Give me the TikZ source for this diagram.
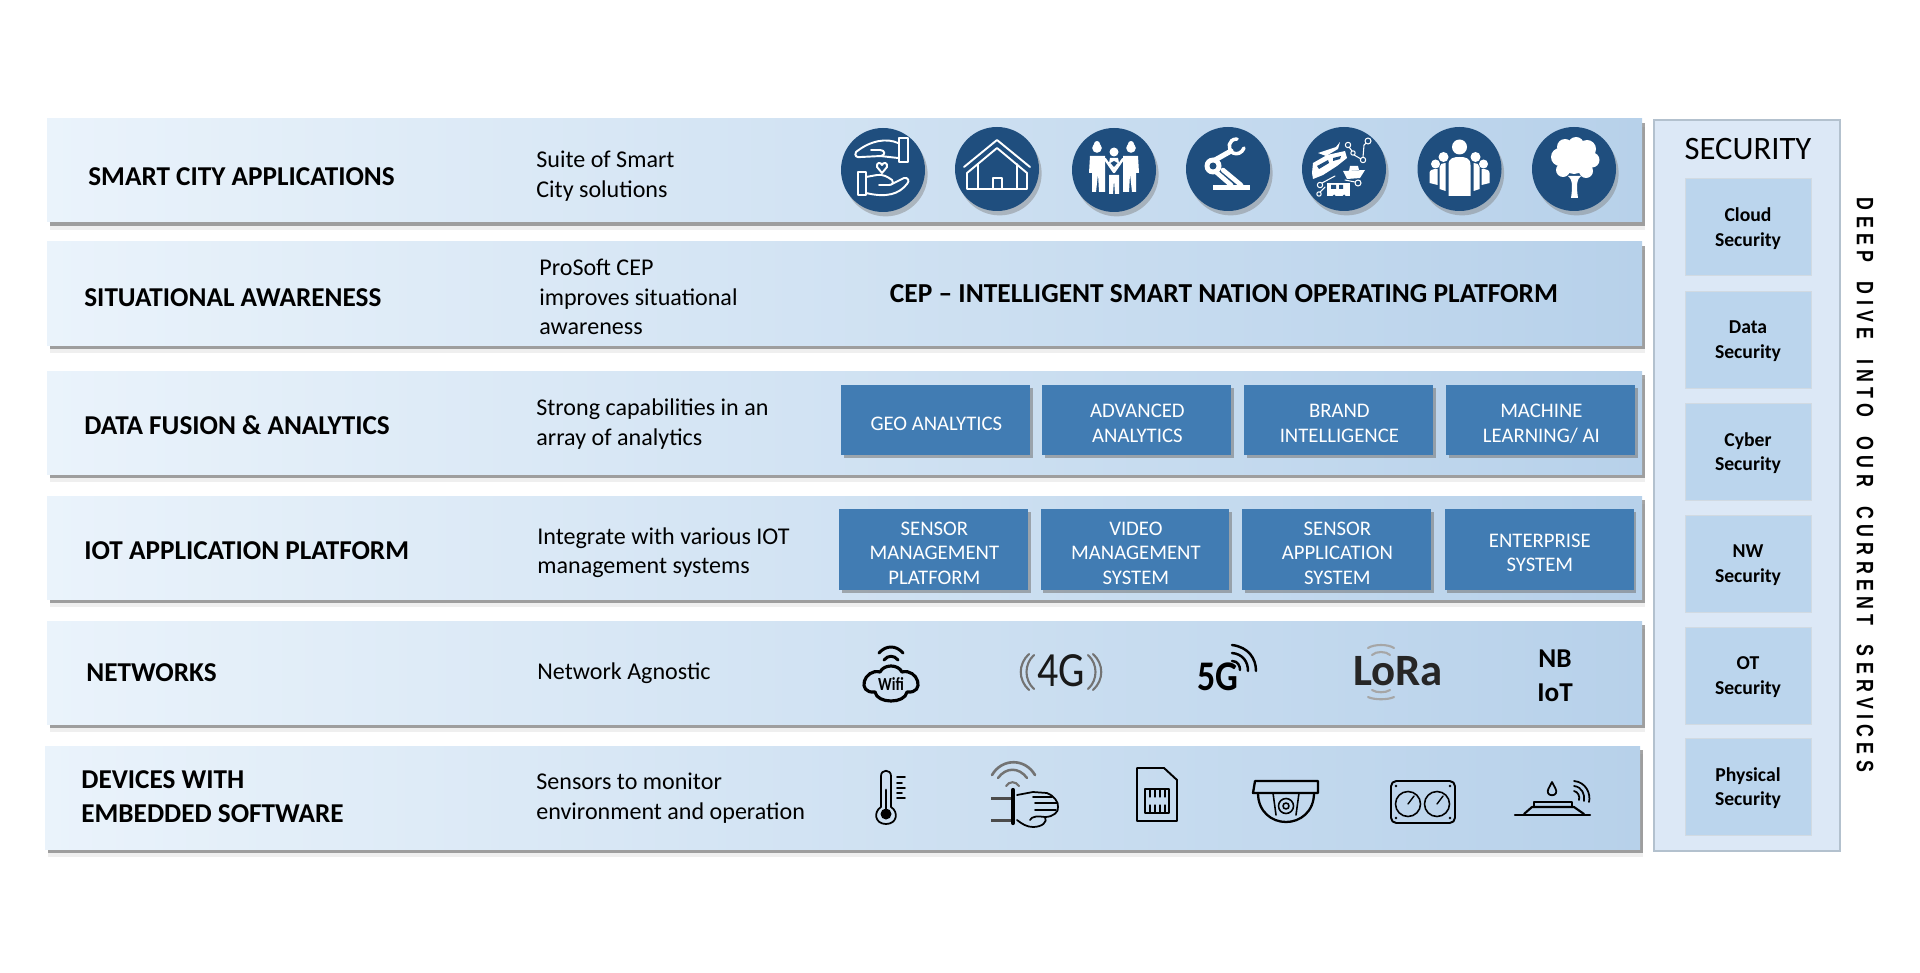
\documentclass[tikz,border=0pt]{standalone}
\usepackage{fontspec}
\usepackage{xcolor}
\setmainfont{Carlito}
\newfontfamily\spacedfont[LetterSpace=30,WordSpace=1.9]{Liberation Sans}
\usetikzlibrary{shadows}
\definecolor{bandleft}{HTML}{EAF3FB}
\definecolor{bandright}{HTML}{B7D1EA}
\definecolor{panelblue}{HTML}{DCE8F6}
\definecolor{panelline}{HTML}{B3C1CE}
\definecolor{secblue}{HTML}{BBD5ED}
\definecolor{tileblue}{HTML}{417CB3}
\definecolor{discblue}{HTML}{1F4E7E}
\tikzset{
	softshadow/.style={drop shadow={shadow xshift=1.5pt,shadow yshift=-4.5pt,fill=black!25,opacity=0.25},
		drop shadow={shadow xshift=1.5pt,shadow yshift=-2.3pt,fill=black!55,opacity=0.65}},
	band/.style={left color=bandleft,right color=bandright,softshadow},
	rowtitle/.style={anchor=west,inner sep=0pt,align=left,font=\fontsize{15.5}{19.5}\selectfont\bfseries},
	rowtext/.style={anchor=west,inner sep=0pt,align=left,font=\fontsize{13.7}{16.7}\selectfont},
	tile/.style={fill=tileblue,inner sep=0pt,minimum width=3.78cm,
		drop shadow={shadow xshift=1.5pt,shadow yshift=-1.8pt,fill=black!55,opacity=0.55}},
	tiletext/.style={text=white,align=center,inner sep=0pt,xshift=0.5pt,yshift=-2pt,font=\fontsize{11.8}{14}\selectfont},
	wide/.style={minimum height=1.4cm},
	tall/.style={minimum height=1.62cm},
	sectile/.style={fill=secblue,draw=panelline!60,line width=0.4pt,minimum width=2.52cm,minimum height=1.94cm,align=center,
		inner sep=0pt,text depth=0pt,font=\fontsize{11.2}{13.9}\selectfont\bfseries},
	disc/.style={fill=discblue,drop shadow={shadow xshift=1.5pt,shadow yshift=-2.5pt,fill=black!50,opacity=0.45}},
	wline/.style={draw=white,line width=1.1pt,line cap=round,line join=round},
	wfill/.style={fill=white},
	kline/.style={draw=black,line width=1pt,line cap=round,line join=round},
	gline/.style={draw=black!55,line width=1.2pt,line cap=round},
}
\begin{document}
\begin{tikzpicture}[x=0.02cm,y=-0.02cm]
	\useasboundingbox (0,0) rectangle (1920,973);
	\fill[band] (47,119) rectangle (1642,222);
	\fill[band] (47,242) rectangle (1642,345);
	\fill[band] (47,371) rectangle (1642,474);
	\fill[band] (47,496) rectangle (1642,599);
	\fill[band] (47,621) rectangle (1642,724);
	\fill[band] (45,746) rectangle (1640,849);
	\node[rowtitle] (apptitle) at (88,177) {SMART CITY APPLICATIONS};
	\node[rowtitle] (sittitle) at (84,298) {SITUATIONAL AWARENESS};
	\node[rowtitle] (datatitle) at (84,425) {DATA FUSION \& ANALYTICS};
	\node[rowtitle] (iottitle) at (84,551) {IOT APPLICATION PLATFORM};
	\node[rowtitle] (nettitle) at (86,673) {NETWORKS};
	\node[rowtitle] (devtitle) at (81,797) {DEVICES WITH\\EMBEDDED SOFTWARE};
	\node[rowtext] (apptext) at (536,176) {Suite of Smart\\City solutions};
	\node[rowtext] (sittext) at (539,297) {ProSoft CEP\\improves situational\\awareness};
	\node[rowtext] (datatext) at (536,424) {Strong capabilities in an\\array of analytics};
	\node[rowtext] (iottext) at (537,553) {Integrate with various IOT\\management systems};
	\node[rowtext] (nettext) at (537,673) {Network Agnostic};
	\node[rowtext] (devtext) at (536,798) {Sensors to monitor\\environment and operation};
	\node[font=\fontsize{15.6}{19}\selectfont\bfseries,inner sep=0pt] (ceptitle) at (1224,294) {CEP -- INTELLIGENT SMART NATION OPERATING PLATFORM};
	\node[tile,wide,label={[tiletext]center:{GEO ANALYTICS}}] (geo) at (935.5,420) {};
	\node[tile,wide,label={[tiletext]center:{ADVANCED\\ANALYTICS}}] (advanced) at (1136.5,420) {};
	\node[tile,wide,label={[tiletext]center:{BRAND\\INTELLIGENCE}}] (brand) at (1338.5,420) {};
	\node[tile,wide,label={[tiletext]center:{MACHINE\\LEARNING/ AI}}] (machine) at (1540.5,420) {};
	\node[tile,tall,label={[tiletext]center:{SENSOR\\MANAGEMENT\\PLATFORM}}] (sensormgmt) at (933.5,549.5) {};
	\node[tile,tall,label={[tiletext]center:{VIDEO\\MANAGEMENT\\SYSTEM}}] (videomgmt) at (1135,549.5) {};
	\node[tile,tall,label={[tiletext]center:{SENSOR\\APPLICATION\\SYSTEM}}] (sensorapp) at (1336.5,549.5) {};
	\node[tile,tall,label={[tiletext]center:{ENTERPRISE\\SYSTEM}}] (enterprise) at (1539,549.5) {};
	\filldraw[fill=panelblue,draw=panelline,line width=0.8pt] (1654,120) rectangle (1840,851);
	\node[font=\fontsize{18.6}{21}\selectfont,inner sep=0pt] (sectitle) at (1748,149) {SECURITY};
	\node[sectile] (cloudsec) at (1748,227) {Cloud\\Security};
	\node[sectile] (datasec) at (1748,339.5) {Data\\Security};
	\node[sectile] (cybersec) at (1748,451.5) {Cyber\\Security};
	\node[sectile] (nwsec) at (1748,563.5) {NW\\Security};
	\node[sectile] (otsec) at (1748,675.5) {OT\\Security};
	\node[sectile] (physsec) at (1748,786.5) {Physical\\Security};
	\node[rotate=-90,xscale=0.75,inner sep=0pt,font=\fontsize{13.5}{15}\spacedfont\bfseries] (deepdive) at (1865,485) {DEEP DIVE INTO OUR CURRENT SERVICES};

	\fill[disc] (883,170) circle (42);
	\begin{scope}[shift={(883,170)}]
		\draw[wline] (15,-27) .. controls (4,-32) and (-12,-30) .. (-27,-18) .. controls (-29,-14) and (-26,-12) .. (-22,-13) -- (-2,-14) .. controls (3,-15) and (2,-20) .. (-3,-20) -- (-12,-20);
		\draw[wline] (-3,-14) -- (15,-12);
		\draw[wline] (16,-32) -- (25,-32) -- (25,-8) -- (16,-8) -- cycle;
		\draw[wline] (-17,7) -- (-6,5) .. controls (0,4) and (5,7) .. (9,10) .. controls (11,13) and (9,15) .. (6,15) -- (-4,15);
		\draw[wline] (9,14) -- (21,8) .. controls (25,7) and (27,11) .. (24,14) .. controls (16,24) and (4,28) .. (-17,23);
		\draw[wline] (-25,2) -- (-17,2) -- (-17,25) -- (-25,25) -- cycle;
		\draw[wline] (-1,3) -- (-6,-3) .. controls (-7,-8) and (-2,-8) .. (-1,-5) .. controls (0,-8) and (5,-8) .. (4,-3) -- cycle;
	\end{scope}
	\fill[disc] (997,169) circle (42);
	\begin{scope}[shift={(997,169)}]
		\draw[wline] (-33,-2) -- (0,-29) -- (33,-2);
		\draw[wline] (-30,20) -- (-30,4) -- (0,-21) -- (30,4) -- (30,20) -- cycle;
		\draw[wline] (-4,20) -- (-4,9) -- (5,9) -- (5,20);
		\draw[wline] (-19,20) -- (-19,-5) (20,20) -- (20,-5);
	\end{scope}
	\fill[disc] (1114,170) circle (42);
	\begin{scope}[shift={(1114,170)}]
		\fill[wfill] (-17,-22) circle (4.8) (17,-22) circle (4.8) (0,-18) circle (4.5);
		\fill[wfill] (-17,-26) circle (3) (17,-26) circle (3);
		\fill[wfill] (-24,-14) -- (-9,-14) -- (-9,22) -- (-15,22) -- (-16,4) -- (-18,22) -- (-22,22) -- (-22,3) -- (-25,3) -- cycle;
		\fill[wfill] (24,-14) -- (9,-14) -- (9,22) -- (15,22) -- (16,4) -- (18,22) -- (22,22) -- (22,3) -- (25,3) -- cycle;
		\fill[wfill] (-5,5) -- (5,5) -- (5,24) -- (1,24) -- (0,10) -- (-1,24) -- (-5,24) -- cycle;
		\draw[wline,line width=1.4pt] (-9,-11) -- (0,2) -- (9,-11);
		\fill[wfill] (-4,-12) -- (4,-12) -- (5,-7) -- (0,0) -- (-5,-7) -- cycle;
		\fill[discblue] (0,-3) -- (-3.5,-7) -- (0,-9) -- (3.5,-7) -- cycle;
	\end{scope}
	\fill[disc] (1228,169) circle (42);
	\begin{scope}[shift={(1228,169)}]
		\fill[wfill] (-15,16) rectangle (22,21);
		\draw[wline,line width=2.6pt] (-12,3) -- (3,16);
		\draw[wline,line width=2.6pt] (-5,1) -- (13,16);
		\draw[wline,line width=2.9pt] (-13,-9) -- (3,-18);
		\fill[wfill] (-15,-3) circle (8.5);
		\fill[discblue] (-15,-3) circle (3.5);
		\draw[wline,line width=2pt] (9,-30) .. controls (0,-30) and (-1,-20) .. (5,-16) .. controls (9,-14) and (14,-16) .. (16,-21);
	\end{scope}
	\fill[disc] (1344,169) circle (42);
	\begin{scope}[shift={(1344,169)}]
		\fill[wfill] (-32,4) -- (-31,-6) -- (-17,-14) -- (1,-18) -- (3,-11) -- (-7,-3) -- (-21,6) -- (-31,10) -- cycle;
		\fill[discblue] (-27,-3) -- (-16,-9) -- (-15,-6) -- (-25,0) -- cycle;
		\fill[discblue] (-11,-11) -- (-3,-13) -- (-4,-10) -- (-11,-8) -- cycle;
		\fill[wfill] (-26,-16) -- (-8,-22) -- (-4,-27) -- (-6,-20) -- (-18,-13) -- cycle;
		\fill[wfill] (-1,2) -- (21,1) -- (16,9) -- (3,10) -- cycle;
		\fill[wfill] (6,-3) -- (14,-3) -- (15,1) -- (5,2) -- cycle;
		\fill[wfill] (-17,14) rectangle (6,27);
		\fill[discblue] (-13,16) rectangle (-8,20) (-5,16) rectangle (-1,20);
		\fill[discblue] (-10,27) circle (1.5) (0,27) circle (1.5);
		\draw[wline,line width=0.6pt] (4,-24) circle (2.7) (9,-16) circle (2.2) (19,-9) circle (2.7) (24,-28) circle (3) (-24,16) circle (2.7) (14,14) circle (3) (-25,25) circle (2.2);
		\draw[wline,line width=0.6pt] (5,-22) -- (8,-18) (10,-14) -- (17,-10) (19,-12) -- (20,-24) -- (22,-26) (-22,14) -- (-9,7) (11,13) -- (1,11) (-24,23) -- (-19,18);
	\end{scope}
	\fill[disc] (1459.5,169) circle (42);
	\begin{scope}[shift={(1459.5,169)}]
		\fill[wfill] (0,-22) circle (7.5);
		\fill[wfill] (-24,-5) circle (4.5) (24,-5) circle (4.5) (-16,-12) circle (5) (16,-12) circle (5);
		\fill[wfill] (-30,14) -- (-30,4) .. controls (-30,1) and (-27,0) .. (-22,0) -- (-22,16) -- cycle;
		\fill[wfill] (30,14) -- (30,4) .. controls (30,1) and (27,0) .. (22,0) -- (22,16) -- cycle;
		\fill[wfill] (-20,20) -- (-20,-2) .. controls (-20,-5) and (-17,-6) .. (-14,-6) -- (-14,22) -- cycle;
		\fill[wfill] (20,20) -- (20,-2) .. controls (20,-5) and (17,-6) .. (14,-6) -- (14,22) -- cycle;
		\fill[wfill] (-11,27) -- (-11,-4) .. controls (-11,-11) and (-6,-12) .. (0,-12) .. controls (6,-12) and (11,-11) .. (11,-4) -- (11,27) -- cycle;
	\end{scope}
	\fill[disc] (1574,169) circle (42);
	\begin{scope}[shift={(1574,169)}]
		\fill[wfill] (-14,-12) circle (9) (-9,-22) circle (8) (2,-24) circle (8) (13,-20) circle (9) (18,-9) circle (7.5) (12,2) circle (7) (-11,1) circle (7) (0,-8) circle (13);
		\fill[wfill] (-6,7) .. controls (-2,10) and (-1,16) .. (-3,29) -- (4,29) .. controls (2,16) and (3,10) .. (7,7) -- cycle;
	\end{scope}

	\node[inner sep=0pt,xscale=0.82,font=\fontsize{10.5}{11}\selectfont\bfseries] (wifitext) at (891,684) {Wifi};
	\draw[kline,line width=1.8pt] (880,672) .. controls (884,664) and (898,664) .. (902,672) .. controls (918,668) and (926,694) .. (907,692) .. controls (905,704) and (877,704) .. (875,692) .. controls (856,694) and (864,668) .. (880,672) -- cycle;
	\draw[kline,line width=1.7pt] (884,660) .. controls (888,655) and (894,655) .. (898,660);
	\draw[kline,line width=1.7pt] (879,653) .. controls (886,645) and (896,645) .. (903,653);
	\node[inner sep=0pt,xscale=0.85,font=\fontsize{28}{30}\selectfont,text=black!90] (fourg) at (1061,671) {4G};
	\draw[gline] (1034,655) .. controls (1024,664) and (1024,680) .. (1034,689);
	\draw[gline] (1029,654) .. controls (1018,664) and (1018,680) .. (1029,690);
	\draw[gline] (1088,655) .. controls (1098,664) and (1098,680) .. (1088,689);
	\draw[gline] (1093,654) .. controls (1104,664) and (1104,680) .. (1093,690);
	\node[inner sep=0pt,xscale=0.85,font=\fontsize{24}{26}\selectfont\bfseries] (fiveg) at (1218,677) {5G};
	\draw[kline,line width=1.4pt] (1232,661) .. controls (1238,661) and (1240,666) .. (1240,670);
	\draw[kline,line width=1.4pt] (1232,653) .. controls (1243,654) and (1248,662) .. (1248,671);
	\draw[kline,line width=1.4pt] (1232,645) .. controls (1248,647) and (1256,658) .. (1256,671);
	\draw[gline,draw=black!35] (1372,655) .. controls (1376,651) and (1386,651) .. (1390,655);
	\draw[gline,draw=black!35] (1368,648) .. controls (1374,644) and (1388,644) .. (1394,648);
	\draw[gline,draw=black!35] (1372,690) .. controls (1376,693) and (1386,693) .. (1390,690);
	\draw[gline,draw=black!35] (1368,697) .. controls (1374,700) and (1388,700) .. (1394,697);
	\node[inner sep=0pt,font=\fontsize{25.5}{27}\selectfont\bfseries,text=black!85] (lora) at (1398,671) {LoRa};
	\node[inner sep=0pt,align=center,font=\fontsize{15.5}{19.3}\selectfont\bfseries] (nbiot) at (1555,676) {NB\\IoT};

	\draw[kline] (881,807) -- (881,776) .. controls (881,769) and (891,769) .. (891,776) -- (891,807) .. controls (899,812) and (897,824) .. (886,824) .. controls (875,824) and (873,812) .. (881,807) -- cycle;
	\fill (886,814) circle (5.5);
	\draw[kline,line width=1.6pt] (886,814) -- (886,790);
	\draw[kline,line width=0.9pt] (897,777) -- (905,777) (897,783) -- (902,783) (897,788) -- (905,788) (897,793) -- (902,793) (897,798) -- (905,798);
	\draw[gline] (1006,786) .. controls (1009,781) and (1016,781) .. (1019,786);
	\draw[gline,line width=1.4pt] (998,778) .. controls (1006,767) and (1019,767) .. (1027,778);
	\draw[gline,line width=1.5pt] (992,775) .. controls (1002,758) and (1025,758) .. (1035,775);
	\draw[gline,draw=black!70,line width=1.7pt,line cap=butt] (991,798) -- (1011,798) (991,820) -- (1011,820);
	\draw[kline,line width=2.4pt] (1013,790) -- (1013,823);
	\draw[kline] (1017,795) -- (1033,792) -- (1047,793) .. controls (1053,795) and (1059,802) .. (1058,807) .. controls (1059,812) and (1053,817) .. (1045,817) .. controls (1048,822) and (1042,827) .. (1033,827) .. controls (1027,827) and (1022,824) .. (1017,820);
	\draw[kline] (1033,797) -- (1052,797) (1035,803) -- (1057,803) (1035,810) -- (1056,810);
	\draw[kline] (1030,820) .. controls (1032,816) and (1038,816) .. (1045,817);
	\draw[kline,line width=1.1pt] (1137,768) -- (1164,768) -- (1177,780) -- (1177,821) -- (1137,821) -- cycle;
	\draw[kline,line width=0.8pt] (1145,789) rectangle (1169,813);
	\draw[kline,line width=0.6pt] (1150,789) -- (1150,797) (1155,789) -- (1155,797) (1160,789) -- (1160,797) (1165,789) -- (1165,797) (1150,805) -- (1150,813) (1155,805) -- (1155,813) (1160,805) -- (1160,813) (1165,805) -- (1165,813);
	\draw[kline,line width=1.3pt] (1255,781) -- (1318,781) -- (1318,793) -- (1253,793) -- cycle;
	\draw[kline,line width=1.3pt] (1258,793) .. controls (1258,812) and (1272,822) .. (1286,822) .. controls (1300,822) and (1314,812) .. (1314,793);
	\draw[kline,line width=0.9pt] (1273,793) -- (1276,815) (1299,793) -- (1296,815);
	\draw[kline,line width=0.9pt] (1286,806) circle (7.5);
	\draw[kline,line width=0.9pt] (1286,806) circle (3);
	\draw[kline,line width=1.1pt,rounded corners=3pt] (1391,781) rectangle (1455,823);
	\draw[kline,line width=0.9pt] (1408,804) circle (12.5) (1437,804) circle (12.5);
	\draw[kline,line width=0.8pt] (1408,804) -- (1414,796) (1437,804) -- (1443,796);
	\fill (1396,786) circle (1.4) (1450,786) circle (1.4) (1396,818) circle (1.4) (1450,818) circle (1.4);
	\draw[kline,line width=1.3pt] (1515,815) -- (1590,815);
	\draw[kline,line width=1.2pt] (1524,814) -- (1532,807) -- (1574,807) -- (1584,814);
	\draw[kline,line width=1.2pt] (1534,807) -- (1534,802) -- (1572,802) -- (1572,807);
	\draw[kline,line width=1pt] (1552,782) .. controls (1549,788) and (1547,790) .. (1548,793) .. controls (1549,796) and (1555,796) .. (1556,793) .. controls (1557,790) and (1555,788) .. (1552,782) -- cycle;
	\draw[kline,line width=1pt] (1574,791) .. controls (1578,792) and (1580,796) .. (1579,800);
	\draw[kline,line width=1pt] (1574,786) .. controls (1582,787) and (1585,794) .. (1584,801);
	\draw[kline,line width=1pt] (1574,781) .. controls (1586,782) and (1591,794) .. (1589,802);
\end{tikzpicture}
\end{document}
